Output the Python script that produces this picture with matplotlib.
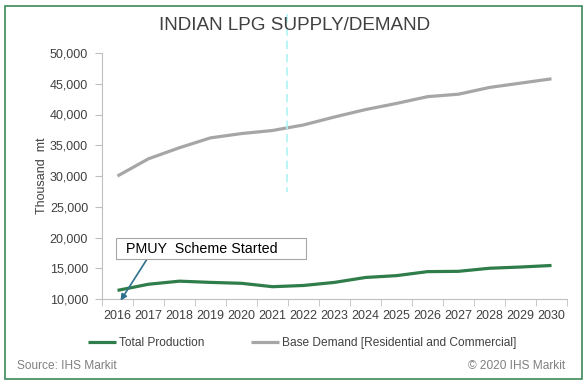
import numpy as np
import matplotlib.pyplot as plt
from matplotlib.patches import Rectangle

plt.rcParams['font.family'] = ['Liberation Sans', 'DejaVu Sans']

# data (thousand mt)
years = ['2016', '2017', '2018', '2019', '2020', '2021', '2022', '2023',
         '2024', '2025', '2026', '2027', '2028', '2029', '2030']
total_production = [11400, 12400, 12900, 12700, 12550, 12000, 12200, 12700,
                    13500, 13800, 14450, 14500, 15000, 15200, 15450]
base_demand = [30000, 32800, 34600, 36200, 36900, 37400, 38300, 39600,
               40800, 41800, 42900, 43300, 44400, 45100, 45800]

green = '#2f7d4a'
grey = '#a6a6a6'
txt = '#404040'

W, H = 588, 384
fig = plt.figure(figsize=(W / 100, H / 100), dpi=100)

# outer frame
fig.patches.append(Rectangle((5 / W, 5 / H), 577 / W, 373 / H, transform=fig.transFigure,
                             fill=False, edgecolor='#3d8a5a', linewidth=1.2))

ax = fig.add_axes([102 / W, 1 - 299 / H, 465 / W, 246 / H])
x = np.arange(len(years))
ax.plot(x, base_demand, color=grey, linewidth=2.3, solid_capstyle='butt',
        label='Base Demand [Residential and Commercial]')
ax.plot(x, total_production, color=green, linewidth=2.3, solid_capstyle='butt',
        label='Total Production')

ax.set_xlim(-0.5, len(years) - 0.5)
ax.set_ylim(10000, 50000)
ax.set_yticks(np.arange(10000, 50001, 5000))
ax.set_yticklabels([f'{v:,}' for v in range(10000, 50001, 5000)])
ax.set_xticks(x)
ax.set_xticklabels(years)
ax.set_xticks(np.arange(-0.5, len(years)), minor=True)
ax.tick_params(axis='x', which='major', length=0, pad=8, labelsize=9, labelcolor=txt)
ax.tick_params(axis='x', which='minor', length=5, color='#bfbfbf', direction='out')
ax.tick_params(axis='y', length=5, color='#bfbfbf', labelsize=9, labelcolor=txt, pad=5)
for s in ['top', 'right']:
    ax.spines[s].set_visible(False)
for s in ['left', 'bottom']:
    ax.spines[s].set_color('#bfbfbf')
ax.set_ylabel('Thousand  mt', fontsize=9, color=txt, labelpad=1)

fig.text(295 / W, 1 - 26 / H, 'INDIAN LPG SUPPLY/DEMAND', ha='center', va='center',
         fontsize=13.6, color=txt)

# annotation box and arrow
fig.patches.append(Rectangle((116 / W, 1 - 259 / H), 190 / W, 21 / H, transform=fig.transFigure,
                             facecolor='white', edgecolor='#a6a6a6', linewidth=0.8, zorder=5))
fig.text(126 / W, 1 - 249 / H, 'PMUY  Scheme Started', ha='left', va='center',
         fontsize=10.3, color='black', zorder=6)
ax.annotate('', xy=(0.05, 9350), xytext=(0.98, 16700), annotation_clip=False,
            arrowprops=dict(arrowstyle='-|>', color='#2e6f8e', lw=1.2, mutation_scale=9))

# faint dashed guide
fig.add_artist(plt.Line2D([287 / W, 287 / W], [1 - 14 / H, 1 - 192 / H],
                          transform=fig.transFigure, color='#aef3f3', lw=1.2, ls=(0, (5, 3))))

# legend
h, l = ax.get_legend_handles_labels()
fig.legend(h[::-1], l[::-1], loc='center left', bbox_to_anchor=(88 / W, 1 - 343 / H), ncol=2,
           frameon=False, fontsize=8.6, handlelength=2.35, handletextpad=0.25,
           columnspacing=3.9, labelcolor=txt, borderpad=0, borderaxespad=0)

fig.text(17 / W, 1 - 366 / H, 'Source: IHS Markit', ha='left', va='center',
         fontsize=8.6, color='#808080')
fig.text(565 / W, 1 - 366 / H, '\u00a9 2020 IHS Markit', ha='right', va='center',
         fontsize=8.6, color='#808080')

fig.savefig('out.png', dpi=100)
